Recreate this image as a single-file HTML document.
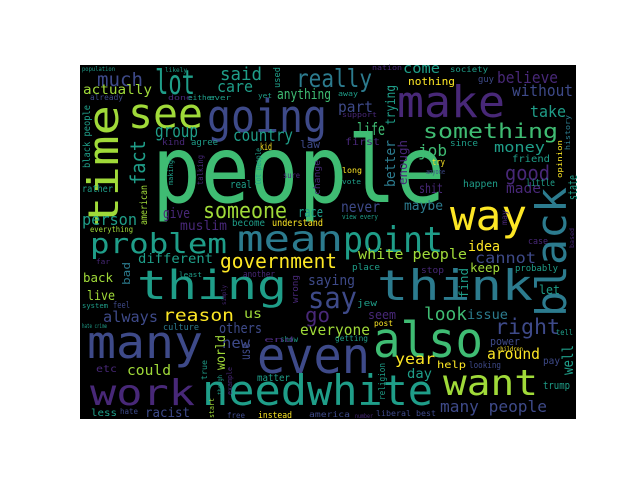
<!DOCTYPE html>
<html><head><meta charset="utf-8"><style>
html,body{margin:0;padding:0;background:#fff;width:640px;height:480px;overflow:hidden}
svg{display:block}
text{font-family:"DejaVu Sans Mono","Liberation Mono",monospace}
</style></head><body>
<svg id="chart" width="640" height="480">
<rect x="80" y="65" width="496" height="354" fill="#000"/>
<g id="words"></g>
</svg>
<script>
const words = [
"people","thing","think","also","even","many","need","white","make","going",
"mean","point","way","want","black","work","time","see","lot","problem",
"say","something","really","go","right","good","look","someone","reason","government",
"country","made","much","said","care","group","life","job","money","believe",
"without","take","part","never","maybe","come","anything","actually","person","muslim",
"give","race","different","always","others","everyone","new","could","racist","back",
"live","us","white people","cannot","idea","keep","year","around","issue","seem",
"day","let","many people","trump","power","help","shit","little","friend","happen",
"since","nothing","real","law","kid","rather","become","understand","culture","feel",
"etc","matter","less","instead","liberal best","america","probably","place","stop","jew",
"post","getting","looking","pay","tell","far","system","another","least","society",
"guy","nation","first","support","long","vote","anyone","try","view every","everything",
"already","done","either","ever","yet","kind","agree","sure","hate","free",
"hate crime","case","population","likely","away","show","end","number","children","trying",
"enough","better","state","opinion","history","fact","american","black people","used","change",
"lot people","talking","making","bad","wrong","world","use","true","example","though",
"start","simply","find","well","religion","may","based","saying"];
const xs = [
152,137,377,373,257,87,202,307,397,207,
237,343,450,443,566,90,118,128,155,90,
308,423,296,305,495,505,424,203,163,220,
233,506,97,220,217,155,357,418,494,497,
512,530,338,341,404,403,277,83,82,180,
163,298,138,103,219,300,222,127,145,83,
87,244,358,475,468,470,395,487,467,368,
407,539,440,543,490,437,419,526,512,463,
450,408,230,300,260,82,232,272,163,113,
96,257,91,258,376,309,515,352,421,357,
374,335,469,543,556,96,82,243,179,450,
478,372,345,342,342,342,426,432,342,90,
90,168,188,209,258,162,191,283,120,227,
82,528,82,165,338,280,264,355,497,395,
407,395,577,562,570,145,147,90,280,320,
261,203,173,130,298,225,250,207,232,222,
214,226,468,573,385,507,574,308];
const ys = [
202,299,300,357,373,358,405,405,117,132,
251,252,230,395,317,405,227,128,94,253,
308,138,87,322,334,180,320,218,321,268,
141,193,86,80,92,137,135,156,152,83,
96,117,112,212,210,73,99,94,225,230,
218,217,263,322,333,335,348,375,417,282,
300,318,259,263,251,272,364,359,319,319,
378,294,412,389,345,368,193,186,162,187,
146,85,188,148,150,192,226,226,330,308,
372,381,416,418,416,417,271,270,273,306,
326,341,368,364,335,264,308,277,277,72,
82,70,145,117,173,184,174,165,219,232,
100,100,100,100,98,145,145,178,414,418,
328,244,71,72,96,342,342,418,351,125,
185,187,200,178,150,185,225,168,88,195,
185,185,185,285,303,370,360,380,395,395,
418,305,298,375,400,225,248,285];
const lens = [
293,150,156,110,113,116,105,126,108,120,
106,100,77,95,130,105,122,75,40,137,
49,135,76,25,65,45,43,84,71,117,
60,35,46,42,36,43,28,29,51,61,
61,36,35,39,39,37,54,69,55,47,
27,25,75,55,43,70,28,44,45,30,
28,18,109,61,32,30,40,53,41,28,
25,21,107,27,30,29,24,29,38,35,
28,47,22,20,12,31,33,51,36,17,
21,33,26,34,60,41,43,28,23,20,
19,33,32,17,17,14,26,32,23,38,
16,30,35,35,20,19,19,13,36,43,
33,24,28,22,14,23,27,17,18,18,
25,20,33,22,20,18,30,18,26,40,
45,47,25,38,35,45,40,63,21,35,
37,30,25,23,28,35,17,20,28,20,
20,20,30,30,37,15,20,47];
const sizes = [
93,40,42,49,50,45,42,42,44,45,
36,36,42,36,42,36,42,42,34,28,
29,20,25,20,21,20,18,22,17,20,
17,14,19,18,16,18,17,16,14,16,
16,16,15,15,13,14,14,13,16,13,
14,14,13,15,14,15,15,14,13,12,
13,13,14,15,14,12,15,15,13,12,
13,12,16,11,11,10,13,10,10,10,
9,11,11,11,10,10,10,10,9,9,
10,10,10,9,8,8,9,9,9,9,
8,8,9,10,8,7,7,9,7,8,
9,7,10,7,8,7,7,9,7,8,
8,7,7,7,7,9,9,8,8,8,
6,9,6,6,7,8,7,6,6,13,
12,14,12,7,7,20,10,10,9,9,
8,8,7,11,9,13,13,8,7,6,
7,6,12,15,9,8,6,14];
const colors = [
"G","T","C","G","B","B","T","T","P","B",
"C","T","Y","L","C","P","L","L","T","T",
"B","G","C","P","B","P","G","L","Y","Y",
"T","P","B","T","T","T","G","G","T","P",
"B","T","B","B","C","T","G","L","T","P",
"P","T","T","B","B","L","B","L","B","L",
"L","L","L","B","Y","L","Y","Y","C","P",
"T","T","B","T","B","Y","P","T","T","T",
"T","Y","T","B","Y","T","T","Y","C","B",
"P","T","T","Y","B","B","T","T","P","T",
"Y","T","B","B","T","P","T","P","T","T",
"B","P","P","P","Y","T","B","Y","T","L",
"B","P","T","T","T","P","T","P","B","B",
"T","P","T","T","T","T","P","P","Y","T",
"P","C","T","Y","C","T","L","T","T","P",
"T","P","T","C","P","L","B","T","P","T",
"L","P","T","T","T","P","P","B"];
const rotated = ["time","fact","black people","used","making","talking","lot people","change","american","trying","enough","better","opinion","state","history","may","black","bad","wrong","world","use","true","though","example","start","simply","find","well","religion","based"];
const palette = {Y:"#fde725",L:"#a0da39",G:"#3fbc73",T:"#1f9e89",C:"#2c7b8e",B:"#3e4a89",P:"#482878"};
const g = document.getElementById('words');
for (let i = 0; i < words.length; i++) {
  const t = document.createElementNS('http://www.w3.org/2000/svg','text');
  t.textContent = words[i];
  t.setAttribute('font-size', sizes[i]);
  t.setAttribute('fill', palette[colors[i]]);
  t.setAttribute('textLength', lens[i]);
  t.setAttribute('lengthAdjust', 'spacingAndGlyphs');
  if (rotated.indexOf(words[i]) >= 0) {
    t.setAttribute('x', 0); t.setAttribute('y', 0);
    t.setAttribute('transform', 'translate(' + xs[i] + ',' + ys[i] + ') rotate(-90)');
  } else {
    t.setAttribute('x', xs[i]); t.setAttribute('y', ys[i]);
  }
  
  
  g.appendChild(t);
}
</script>
</body></html>
